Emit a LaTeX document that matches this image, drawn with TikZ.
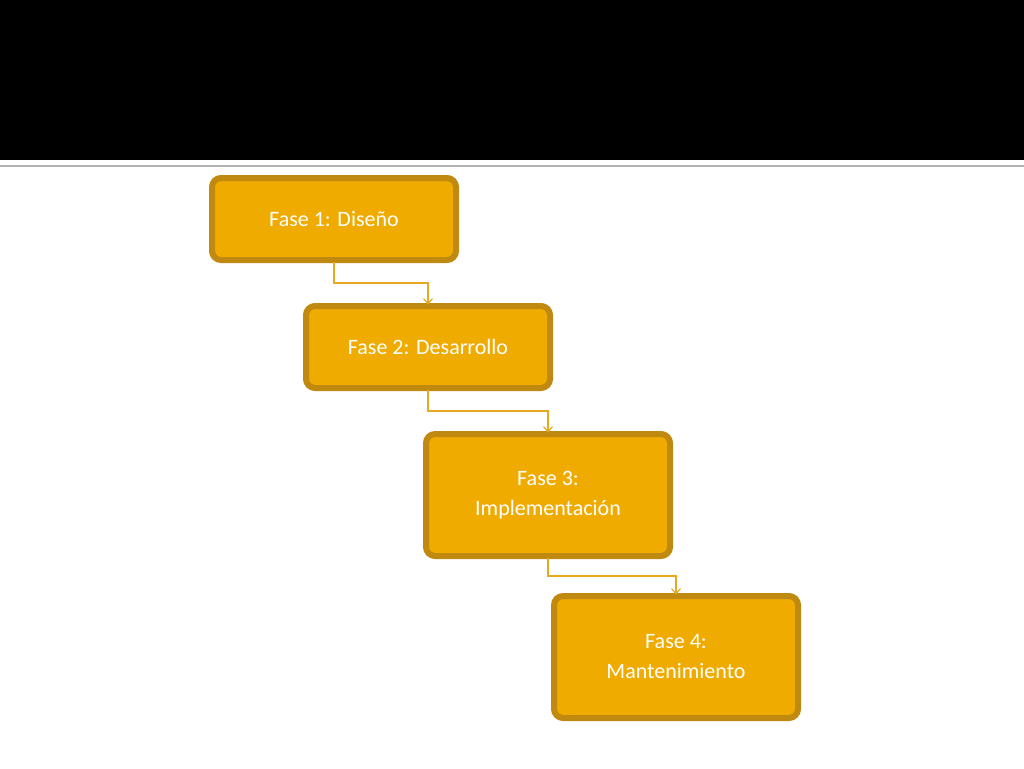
\documentclass[tikz,border=0pt]{standalone}
\usepackage{fontspec}
\setmainfont{Carlito}
\usetikzlibrary{arrows.meta}
\usetikzlibrary{positioning}
\definecolor{phasefill}{HTML}{EFAB00}
\definecolor{phaseline}{HTML}{C08A10}
\definecolor{linkline}{HTML}{E8A820}
\tikzset{
    phase/.style={
        rectangle, rounded corners=9pt,
        minimum width=244pt, draw=phaseline, line width=3pt,
        fill=phasefill, text=white, align=center,
        font=\fontsize{22}{30}\selectfont,
        double=phasefill, double distance=0pt,
    },
    link/.style={draw=linkline, line width=1.2pt, -{Straight Barb[length=5pt,width=9pt]}},
}
\begin{document}
\begin{tikzpicture}[x=1pt, y=-1pt]
        \useasboundingbox (0,0) rectangle (1024,768);
        \fill[black] (0,0) rectangle (1024,160);
        \draw[gray!60, line width=2pt] (0,166) -- (1024,166);

        \node (design) at(334,219) [phase, minimum height=82pt] {Fase 1: Diseño};
        \node (build) at(428,347) [phase, minimum height=82pt] {Fase 2: Desarrollo};
        \node (deploy) at(548,495) [phase, minimum height=122pt] {Fase 3:\\Implementación};
        \node (maintain) at(676,657) [phase, minimum height=122pt] {Fase 4:\\Mantenimiento};

        \draw[link] (design.south) |- (428,283) -- (build.north);
        \draw[link] (build.south) |- (548,411) -- (deploy.north);
        \draw[link] (deploy.south) |- (676,576) -- (maintain.north);
    \end{tikzpicture}
\end{document}
